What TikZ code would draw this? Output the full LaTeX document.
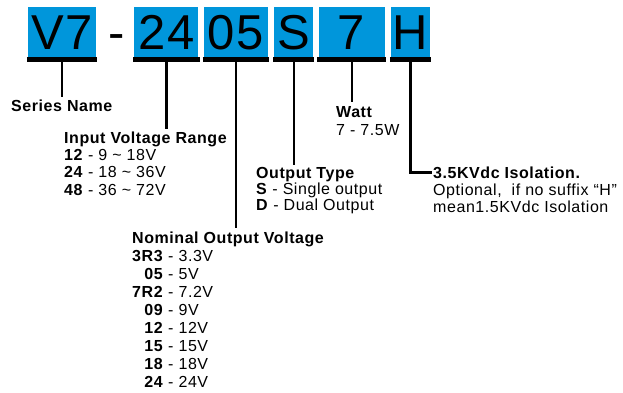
\documentclass[tikz,border=0pt]{standalone}
\usepackage{fontspec}
\setmainfont{Liberation Sans}[LetterSpace=3.5]
\newfontfamily\codefont{Liberation Sans}[LetterSpace=4]
\usetikzlibrary{positioning}
\definecolor{codeblue}{RGB}{0,150,219}

\tikzset{
  codebox/.style={fill=codeblue, inner sep=0pt, minimum height=50pt,
    text height=35pt, text depth=0pt, font=\codefont\fontsize{49}{49}\selectfont},
  underbar/.style={line width=4.5pt},
  lead/.style={line width=2.2pt},
  legend/.style={inner xsep=0pt, inner ysep=2pt, anchor=base west},
}

\begin{document}
\begin{tikzpicture}[x=1pt, y=-1pt]
 \useasboundingbox (0,0) rectangle (623,392);
 \node [codebox, minimum width=68pt] (v7) at (62,32) {V7};
 \node [anchor=base, font=\codefont\fontsize{49}{49}\selectfont, inner sep=0pt] (sep) at (116.5,49.5) {-};
 \node [codebox, minimum width=64pt, right=38pt of v7] (vin) {24};
 \node [codebox, minimum width=64pt, right=5pt of vin] (vout) {05};
 \node [codebox, minimum width=39pt, right=6pt of vout] (otype) {S};
 \node [codebox, minimum width=66pt, right=5pt of otype] (watt) {7};
 \node [codebox, minimum width=39pt, right=6pt of watt] (iso) {H};
 \foreach \b in {v7,vin,vout,otype,watt,iso}
  \draw [underbar] ([xshift=-1pt,yshift=-2.2pt]\b.south west) -- ([xshift=1pt,yshift=-2.2pt]\b.south east);

 \node [legend, font=\fontsize{16}{17.5}\selectfont] (serieslabel) at (11,111)
  {\begin{tabular}[t]{@{}l@{}}\bfseries Series Name\end{tabular}};
 \node [legend, font=\fontsize{16}{17.4}\selectfont] (vinlabel) at (64,143)
  {\begin{tabular}[t]{@{}l@{}}
   \bfseries Input Voltage Range\\
   \textbf{12} - 9 \textasciitilde{} 18V\\
   \textbf{24} - 18 \textasciitilde{} 36V\\
   \textbf{48} - 36 \textasciitilde{} 72V
  \end{tabular}};
 \node [legend, font=\fontsize{16}{18}\selectfont] (voutlabel) at (132,243)
  {\begin{tabular}[t]{@{}r@{\ -\ }l@{}}
   \multicolumn{2}{@{}l@{}}{\bfseries Nominal Output Voltage}\\
   \textbf{3R3} & 3.3V\\
   \textbf{05} & 5V\\
   \textbf{7R2} & 7.2V\\
   \textbf{09} & 9V\\
   \textbf{12} & 12V\\
   \textbf{15} & 15V\\
   \textbf{18} & 18V\\
   \textbf{24} & 24V
  \end{tabular}};
 \node [legend, font=\fontsize{16}{16}\selectfont] (otypelabel) at (256,178)
  {\begin{tabular}[t]{@{}l@{}}
   \bfseries Output Type\\
   \textbf{S} - Single output\\
   \textbf{D} - Dual Output
  \end{tabular}};
 \node [legend, font=\fontsize{16}{18}\selectfont] (wattlabel) at (336,117)
  {\begin{tabular}[t]{@{}l@{}}
   \bfseries Watt\\
   7 - 7.5W
  \end{tabular}};
 \node [legend, font=\fontsize{16}{17}\selectfont] (isolabel) at (433,178)
  {\begin{tabular}[t]{@{}l@{}}
   \bfseries 3.5KVdc Isolation.\\
   Optional,\ \ if no suffix “H”\\
   mean1.5KVdc Isolation
  \end{tabular}};

 \draw [lead] (v7.south) -- (v7.south |- serieslabel.north);
 \draw [lead] (vin.south) -- (vin.south |- vinlabel.north);
 \draw [lead] (vout.south) -- (vout.south |- voutlabel.north);
 \draw [lead] (otype.south) -- (otype.south |- otypelabel.north);
 \draw [lead] (watt.south) -- (watt.south |- wattlabel.north);
 \draw [lead] (iso.south) |- ([xshift=-1pt,yshift=5.5pt]isolabel.base west);
\end{tikzpicture}
\end{document}
